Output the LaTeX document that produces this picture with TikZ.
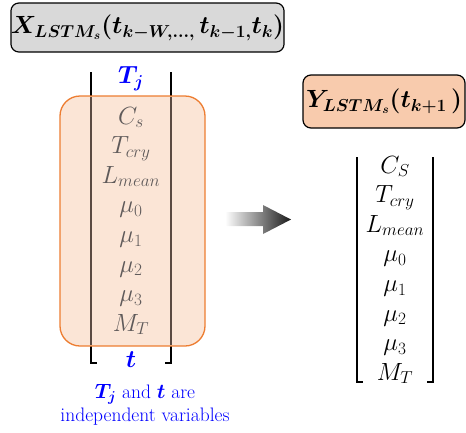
\documentclass[tikz,border=0pt]{standalone}
\usepackage{amsmath}
\usepackage{bm}
\usetikzlibrary{positioning}

\definecolor{boxgray}{HTML}{D9D9D9}
\definecolor{peach}{HTML}{F8CBAD}
\definecolor{lightpeach}{HTML}{FBE5D6}
\definecolor{orangeline}{HTML}{ED7D31}
\definecolor{vargray}{HTML}{5F5A5A}
\definecolor{barbrown}{HTML}{5A4A42}
\definecolor{noteblue}{HTML}{0000FF}

\begin{document}
\begin{tikzpicture}[
            x=1pt, y=-1pt,
            title/.style={
                    rectangle,
                    line width=1.2pt,
                    rounded corners=8pt,
                    draw=black,
                    align=center,
                    font=\fontsize{23}{27}\selectfont,
                    inner sep=0pt
                },
            vars/.style={
                    align=center,
                    font=\fontsize{24}{29.6}\selectfont,
                    inner sep=0pt
                },
            bar/.style={
                    draw,
                    line width=1.3pt
                },
            label/.style={
                    text=noteblue,
                    font=\fontsize{24}{26}\selectfont,
                    inner sep=0pt
                },
            note/.style={
                    text=noteblue,
                    align=center,
                    font=\fontsize{19.5}{23}\selectfont,
                    inner sep=0pt
                }
        ]
        \useasboundingbox (0,0) rectangle (466,432);

        % Boxes
        \node [title, fill=boxgray, minimum width=271pt, minimum height=49pt] (xin) at (147.5,27.5)
            {$\bm{X_{LSTM_s}(t_{k-W,\ldots,}\, t_{k-1,}t_k)}$};
        \node [title, fill=peach, minimum width=162pt, minimum height=53pt] (yout) at (384,101.5)
            {$\bm{Y_{LSTM_s}(t_{k+1}\,)}$};

        % Input matrix
        \path [bar] (91,72) -- (91,363) -- (97,363);
        \path [bar] (171,72) -- (171,363) -- (165,363);
        \path [draw=orangeline, fill=lightpeach, line width=1.3pt, rounded corners=20pt]
            (60,96) rectangle (205,346);
        \path [bar, draw=barbrown] (91,97) -- (91,345);
        \path [bar, draw=barbrown] (171,97) -- (171,345);
        \node [vars, text=vargray] (xvars) at (131,221)
            {$C_s$\\$T_{cry}$\\$L_{mean}$\\$\mu_0$\\$\mu_1$\\$\mu_2$\\$\mu_3$\\$M_T$};
        \node [label] (tj) at (131,79) {$\bm{T_j}$};
        \node [label] (tt) at (131,360) {$\bm{t}$};
        \node [note, below=16pt of tt, xshift=14pt] (remark) {$\bm{T_j}$ and $\bm{t}$ are\\independent variables};

        % Gradient arrow
        \path [left color=white, right color=black!90]
            (225,212) -- (263,212) -- (263,205) -- (291,219.5) -- (263,234) -- (263,226) -- (225,226) -- cycle;

        % Output matrix
        \path [bar] (357,157) -- (357,382) -- (363,382);
        \path [bar] (433,157) -- (433,382) -- (427,382);
        \node [vars] (yvars) at (395,270)
            {$C_S$\\$T_{cry}$\\$L_{mean}$\\$\mu_0$\\$\mu_1$\\$\mu_2$\\$\mu_3$\\$M_T$};
    \end{tikzpicture}
\end{document}
